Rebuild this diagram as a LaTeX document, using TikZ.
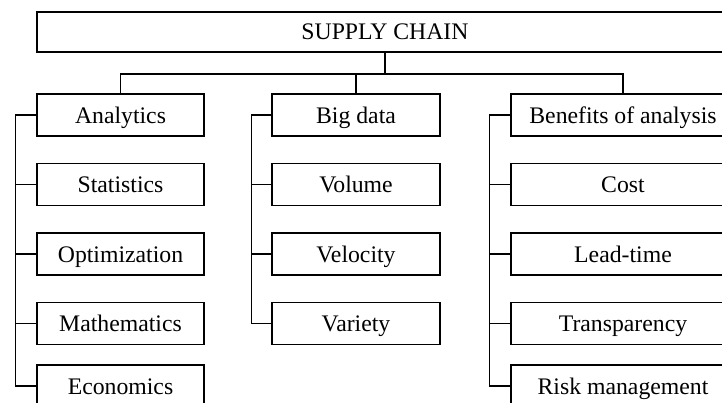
\documentclass[tikz,border=0pt]{standalone}
\usepackage{fontspec}
\setmainfont{Liberation Serif}
\begin{document}
\begin{tikzpicture}[x=0.75pt,y=-0.75pt,
  box/.style={draw,line width=0.9pt,rectangle,inner sep=0pt,minimum height=31.5pt,
    text height=14pt,text depth=1.6pt,font=\fontsize{17.8}{20}\selectfont},
  colA/.style={box,minimum width=125.25pt},
  colB/.style={box,minimum width=126pt},
  colC/.style={box,minimum width=168pt},
  link/.style={line width=0.9pt}]
\useasboundingbox (0,0) rectangle (722,403);
\clip (0,0) rectangle (722,403);
% top
\node[box,minimum width=522pt,minimum height=30pt,text height=13.5pt,text depth=2.5pt] (sc) at (385,32) {SUPPLY CHAIN};
% column A
\node[colA] (an) at (120.5,115) {Analytics};
\node[colA] (st) at (120.5,184.5) {Statistics};
\node[colA] (op) at (120.5,254) {Optimization};
\node[colA] (ma) at (120.5,323.5) {Mathematics};
\node[colA] (ec) at (120.5,386) {Economics};
% column B
\node[colB] (bd) at (356,115) {Big data};
\node[colB] (vo) at (356,184.5) {Volume};
\node[colB] (ve) at (356,254) {Velocity};
\node[colB] (va) at (356,323.5) {Variety};
% column C
\node[colC] (be) at (623,115) {Benefits of analysis};
\node[colC] (co) at (623,184.5) {Cost};
\node[colC] (lt) at (623,254) {Lead-time};
\node[colC] (tr) at (623,323.5) {Transparency};
\node[colC] (rm) at (623,386) {Risk management};
% top connectors
\coordinate (j) at (385,74);
\draw[link] (sc.south) -- (j);
\draw[link] (an.north) |- (j) -| (be.north);
\draw[link] (bd.north) -- (bd.north |- j);
% column A connectors
\draw[link] (an.west) -- ++(-21,0) |- (ec.west);
\foreach \n in {st,op,ma} \draw[link] (\n.west) -- ++(-21,0);
% column B connectors
\draw[link] (bd.west) -- ++(-20,0) |- (va.west);
\foreach \n in {vo,ve} \draw[link] (\n.west) -- ++(-20,0);
% column C connectors
\draw[link] (be.west) -- ++(-21,0) |- (rm.west);
\foreach \n in {co,lt,tr} \draw[link] (\n.west) -- ++(-21,0);
\end{tikzpicture}
\end{document}
